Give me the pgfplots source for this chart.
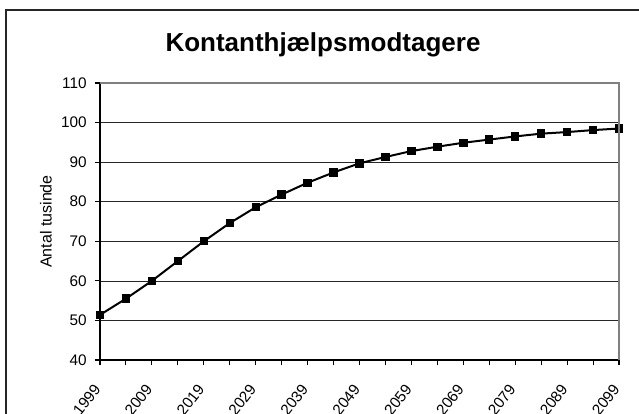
\documentclass[border=0pt]{standalone}
\usepackage{pgfplots}
\pgfplotsset{compat=1.18}
\usepackage{fontspec}
\setmainfont{Liberation Sans}

\begin{document}
\begin{tikzpicture}
\begin{axis}[
  at={(0,0)}, anchor=south west,
  scale only axis, width=389.25pt, height=207.75pt,
  xmin=1999, xmax=2099, ymin=40, ymax=110,
  axis x line*=bottom, axis y line*=left,
  axis line style={black, line width=1.1pt},
  xtick={1999,2009,...,2099},
  minor xtick={2004,2014,...,2094},
  ytick={40,50,...,110},
  tick align=outside,
  major tick length=4pt, minor tick length=4pt,
  every tick/.style={black, line width=0.8pt},
  every minor tick/.style={black, line width=0.8pt},
  ymajorgrids, major grid style={black!85, line width=0.5pt},
  /pgf/number format/1000 sep={},
  /pgf/number format/assume math mode=true,
  tick label style={font=\fontsize{11.5}{13}\selectfont},
  xticklabel style={yshift=-13pt, xshift=0pt, rotate=52, anchor=east},
  yticklabel style={xshift=-2.5pt},
  ylabel={Antal tusinde},
  every axis y label/.style={at={(axis description cs:0,0.5)},
    xshift=-40.5pt, rotate=90, anchor=center,
    font=\fontsize{12}{14}\selectfont},
  after end axis/.code={
    \draw[gray, line width=1.1pt] (rel axis cs:0,1) -- (rel axis cs:1,1) -- (rel axis cs:1,0);
  },
]
\addplot[black, line width=1.5pt, mark=square*, mark size=2.4pt,
  mark options={solid, fill=black}] coordinates {
(1999,51.4)(2004,55.5)(2009,60.0)(2014,65.0)(2019,70.0)(2024,74.6)
(2029,78.6)(2034,81.8)(2039,84.8)(2044,87.4)(2049,89.7)(2054,91.3)
(2059,92.8)(2064,93.9)(2069,94.9)(2074,95.7)(2079,96.5)(2084,97.2)
(2089,97.6)(2094,98.1)(2099,98.5)};
\end{axis}
\node[anchor=base, font=\bfseries\fontsize{19.5}{22}\selectfont] at (167.25pt,231.2pt) {Kontanthjælpsmodtagere};
\draw[black!85, line width=1pt] (-70.5pt,-60pt) -- (-70.5pt,262.5pt) -- (420pt,262.5pt);
\pgfresetboundingbox
\path[use as bounding box] (-75pt,-40.5pt) rectangle (404.25pt,270pt);
\end{tikzpicture}
\end{document}
